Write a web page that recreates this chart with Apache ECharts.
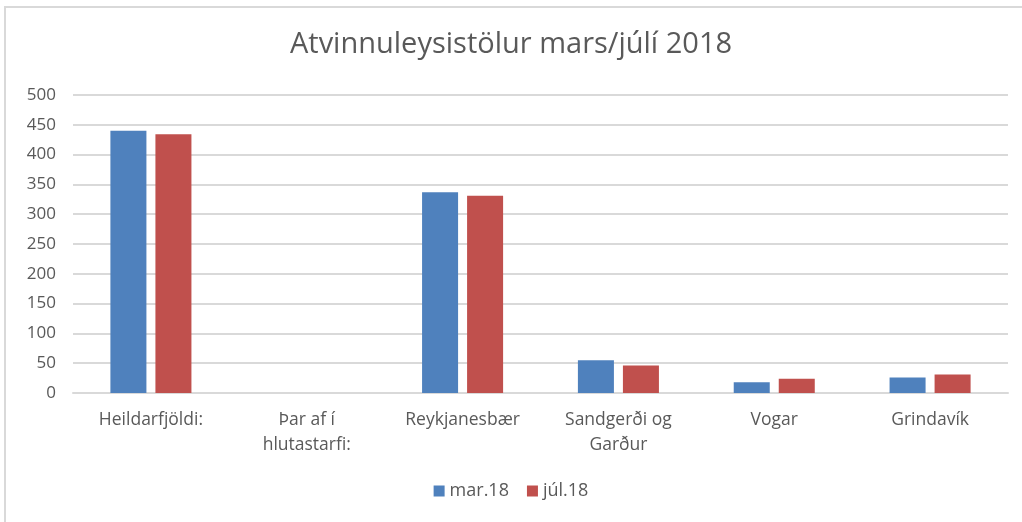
<!DOCTYPE html>
<html>
<head>
<meta charset="utf-8">
<script src="https://cdn.jsdelivr.net/npm/echarts@6/dist/echarts.min.js"></script>
<style>
  html, body { margin: 0; padding: 0; background: #fff; }
  #chart { width: 1022px; height: 522px; }
  #frame { position: absolute; left: 4px; top: 6px; right: -2px; bottom: -2px; border: 2px solid #d9d9d9; pointer-events: none; }
</style>
</head>
<body>
<div id="chart"></div>
<div id="frame"></div>
<script>
const categories = ['Heildarfjöldi:', 'Þar af í\nhlutastarfi:', 'Reykjanesbær', 'Sandgerði og\nGarður', 'Vogar', 'Grindavík']
const mar18 = [440, 0, 337, 55, 18, 26]
const jul18 = [434, 0, 331, 46, 24, 31]
const seriesNames = ['mar.18', 'júl.18']

const font = '"Open Sans", sans-serif'
const chart = echarts.init(document.getElementById('chart'))

chart.setOption({
  animation: false,
  title: {
    text: 'Atvinnuleysistölur mars/júlí 2018',
    left: 'center',
    top: 25,
    textStyle: { fontFamily: font, fontSize: 29, fontWeight: 'normal', color: '#595959' },
  },
  grid: { left: 73, right: 14, top: 95, bottom: 129 },
  legend: {
    data: seriesNames,
    bottom: 17,
    left: 'center',
    icon: 'rect',
    itemWidth: 11,
    itemHeight: 11,
    itemGap: 18,
    textStyle: { fontFamily: font, fontSize: 18, color: '#595959' },
  },
  xAxis: {
    type: 'category',
    data: categories,
    axisLine: { lineStyle: { color: '#d9d9d9', width: 2 } },
    axisTick: { show: false },
    axisLabel: { fontFamily: font, fontSize: 17.5, color: '#595959', margin: 15, lineHeight: 25, interval: 0 },
  },
  yAxis: {
    type: 'value',
    min: 0,
    max: 500,
    interval: 50,
    axisLine: { show: false },
    axisTick: { show: false },
    splitLine: { lineStyle: { color: '#d9d9d9', width: 2 } },
    axisLabel: { fontFamily: font, fontSize: 17, color: '#595959', margin: 17 },
  },
  series: [
    { name: seriesNames[0], type: 'bar', data: mar18, barGap: '25%', barCategoryGap: '48%', itemStyle: { color: '#4f81bd' } },
    { name: seriesNames[1], type: 'bar', data: jul18, itemStyle: { color: '#c0504d' } },
  ],
})
</script>
</body>
</html>
